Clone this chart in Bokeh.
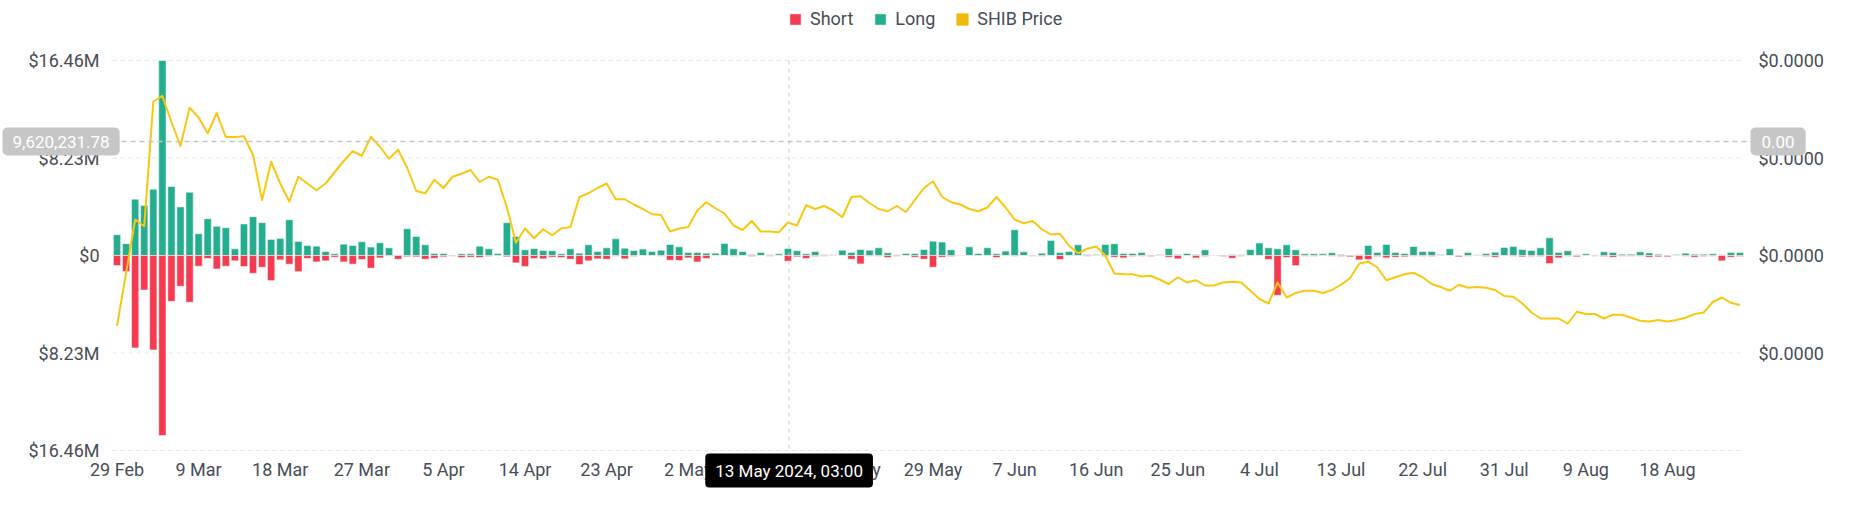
from bokeh.plotting import figure
from bokeh.models import (ColumnDataSource, Range1d, LinearAxis, FixedTicker,
                          CustomJSTickFormatter, Label, Legend, LegendItem)
from bokeh.embed import file_html
from bokeh.resources import INLINE

# daily liquidations, 29 Feb 2024 .. 26 Aug 2024, in $M
long_m = [
    1.75, 0.99, 4.75, 4.21, 5.59, 16.46, 5.82, 4.10, 5.34, 1.84,
    3.11, 2.46, 2.34, 0.56, 2.66, 3.28, 2.77, 1.36, 1.44, 3.02,
    1.19, 0.85, 0.79, 0.34, 0.14, 0.96, 0.85, 1.16, 0.71, 1.07,
    0.65, 0.03, 2.26, 1.61, 0.90, 0.17, 0.17, 0.03, 0.14, 0.14,
    0.79, 0.56, 0.17, 2.77, 1.61, 0.48, 0.59, 0.42, 0.40, 0.14,
    0.56, 0.20, 0.90, 0.34, 0.65, 1.41, 0.62, 0.42, 0.54, 0.34,
    0.45, 0.93, 0.73, 0.25, 0.25, 0.20, 0.20, 1.02, 0.56, 0.34,
    0.08, 0.25, 0.06, 0.14, 0.59, 0.40, 0.14, 0.34, 0.06, 0.06,
    0.45, 0.25, 0.51, 0.45, 0.65, 0.23, 0.06, 0.17, 0.17, 0.51,
    1.21, 1.13, 0.48, 0.02, 0.73, 0.17, 0.65, 0.14, 0.37, 2.18,
    0.31, 0.01, 0.20, 1.27, 0.25, 0.34, 0.90, 0.08, 0.08, 0.93,
    0.99, 0.17, 0.17, 0.25, 0.03, 0.08, 0.59, 0.08, 0.17, 0.08,
    0.48, 0.03, 0.03, 0.08, 0.06, 0.51, 1.05, 0.65, 0.56, 0.90,
    0.48, 0.14, 0.14, 0.14, 0.23, 0.08, 0.05, 0.06, 0.85, 0.25,
    0.93, 0.25, 0.17, 0.76, 0.34, 0.34, 0.08, 0.56, 0.01, 0.25,
    0.06, 0.17, 0.28, 0.68, 0.76, 0.51, 0.42, 0.65, 1.50, 0.25,
    0.40, 0.06, 0.14, 0.01, 0.31, 0.25, 0.11, 0.11, 0.31, 0.22,
    0.10, 0.03, 0.08, 0.20, 0.11, 0.11, 0.14, 0.06, 0.25, 0.25,
]
short_m = [
    0.85, 1.36, 7.80, 2.91, 7.97, 15.20, 3.87, 2.60, 3.95, 0.90,
    0.25, 1.13, 0.90, 0.45, 0.93, 1.50, 0.99, 2.12, 0.37, 0.73,
    1.36, 0.25, 0.54, 0.45, 0.14, 0.54, 0.73, 0.34, 1.07, 0.20,
    0.05, 0.31, 0.10, 0.11, 0.31, 0.23, 0.11, 0.06, 0.17, 0.14,
    0.17, 0.08, 0.03, 0.11, 0.62, 0.93, 0.25, 0.28, 0.14, 0.17,
    0.31, 0.76, 0.45, 0.28, 0.31, 0.06, 0.28, 0.08, 0.03, 0.03,
    0.06, 0.40, 0.42, 0.20, 0.54, 0.25, 0.03, 0.03, 0.06, 0.03,
    0.08, 0.03, 0.06, 0.03, 0.48, 0.11, 0.25, 0.08, 0.06, 0.03,
    0.03, 0.31, 0.71, 0.06, 0.06, 0.17, 0.06, 0.03, 0.14, 0.31,
    0.99, 0.14, 0.08, 0.03, 0.03, 0.03, 0.03, 0.17, 0.03, 0.06,
    0.03, 0.06, 0.06, 0.02, 0.34, 0.03, 0.03, 0.06, 0.03, 0.08,
    0.14, 0.20, 0.08, 0.06, 0.08, 0.03, 0.14, 0.28, 0.03, 0.20,
    0.08, 0.03, 0.08, 0.23, 0.06, 0.03, 0.03, 0.34, 3.36, 0.17,
    0.85, 0.06, 0.06, 0.03, 0.06, 0.08, 0.11, 0.37, 0.34, 0.08,
    0.20, 0.14, 0.11, 0.06, 0.06, 0.08, 0.03, 0.03, 0.11, 0.06,
    0.03, 0.08, 0.14, 0.03, 0.06, 0.11, 0.08, 0.08, 0.68, 0.20,
    0.06, 0.11, 0.03, 0.06, 0.08, 0.14, 0.06, 0.06, 0.06, 0.14,
    0.11, 0.11, 0.03, 0.06, 0.14, 0.08, 0.06, 0.45, 0.14, 0.08,
]
# SHIB price in units of 1e-5 USD
shib_price_e5 = [
    1.06, 1.77, 2.48, 2.39, 4.05, 4.13, 3.78, 3.46, 3.97, 3.84,
    3.63, 3.90, 3.58, 3.58, 3.59, 3.34, 2.74, 3.25, 2.96, 2.72,
    3.05, 2.96, 2.87, 2.96, 3.11, 3.26, 3.39, 3.33, 3.58, 3.45,
    3.29, 3.41, 3.17, 2.86, 2.83, 3.01, 2.90, 3.05, 3.09, 3.14,
    2.98, 3.05, 3.01, 2.64, 2.17, 2.36, 2.23, 2.35, 2.27, 2.36,
    2.38, 2.78, 2.83, 2.90, 2.96, 2.75, 2.75, 2.68, 2.62, 2.55,
    2.54, 2.32, 2.36, 2.38, 2.60, 2.71, 2.63, 2.56, 2.40, 2.34,
    2.46, 2.32, 2.32, 2.31, 2.44, 2.40, 2.67, 2.62, 2.66, 2.60,
    2.51, 2.78, 2.79, 2.70, 2.62, 2.59, 2.66, 2.58, 2.74, 2.90,
    2.99, 2.78, 2.71, 2.68, 2.62, 2.59, 2.64, 2.78, 2.64, 2.48,
    2.43, 2.46, 2.35, 2.28, 2.29, 2.13, 2.03, 2.09, 2.12, 2.00,
    1.76, 1.75, 1.75, 1.72, 1.73, 1.68, 1.62, 1.71, 1.64, 1.67,
    1.60, 1.60, 1.64, 1.65, 1.64, 1.53, 1.42, 1.36, 1.64, 1.44,
    1.50, 1.53, 1.53, 1.50, 1.54, 1.61, 1.70, 1.89, 1.92, 1.84,
    1.67, 1.71, 1.75, 1.77, 1.71, 1.62, 1.58, 1.53, 1.61, 1.57,
    1.58, 1.57, 1.54, 1.46, 1.45, 1.36, 1.24, 1.16, 1.16, 1.16,
    1.09, 1.25, 1.22, 1.22, 1.16, 1.21, 1.21, 1.17, 1.13, 1.12,
    1.14, 1.12, 1.14, 1.17, 1.22, 1.24, 1.38, 1.44, 1.37, 1.34,
]

tick_days = [0, 9, 18, 27, 36, 45, 54, 63, 72, 81, 90, 99, 108, 117, 126, 135, 144, 153, 162, 171]
tick_labels = ["29 Feb", "9 Mar", "18 Mar", "27 Mar", "5 Apr", "14 Apr", "23 Apr", "2 May",
               "11 May", "20 May", "29 May", "7 Jun", "16 Jun", "25 Jun", "4 Jul", "13 Jul",
               "22 Jul", "31 Jul", "9 Aug", "18 Aug"]
left_ticks = [-16.46, -8.23, 0, 8.23, 16.46]
right_ticks = [0.7, 2.0, 3.3, 4.6]

# hover state shown in the screenshot
cursor_day = 74.125
cursor_value = 9.62023178
cursor_text = "13 May 2024, 03:00"

FONT = "Roboto"
TEXT = "#474d57"
GREEN = "#24ae8f"
RED = "#f53b4f"
LINE = "#f9c710"
GOLD = "#f0b90b"

# data area inside the canvas (pixels); the frame is the whole canvas so that
# the hover labels and the legend outside the data area are not clipped
W, H = 1836, 509
PL, PR, PT, PB = 112, 1744, 60, 450
x0, x1 = -0.5, len(long_m) - 0.5
y0, y1 = -16.46, 16.46
p0, p1 = -0.6, 4.6


def outer(lo, hi, a, b, size):
    per = (hi - lo) / (b - a)
    return lo - a * per, hi + (size - b) * per


days = list(range(len(long_m)))
src = ColumnDataSource(dict(day=days, long=long_m,
                            short=[-v for v in short_m], price=shib_price_e5))

xs, xe = outer(x0, x1, PL, PR, W)
ys, ye = outer(y0, y1, H - PB, H - PT, H)
ps, pe = outer(p0, p1, H - PB, H - PT, H)

p = figure(width=W, height=H, x_range=Range1d(xs, xe), y_range=Range1d(ys, ye),
           output_backend="svg", toolbar_location=None, min_border=0)
p.outline_line_color = None
p.extra_y_ranges = {"price": Range1d(ps, pe)}
p.xgrid.visible = False
p.ygrid.visible = False

# grid lines over the data area only
p.segment(x0=[x0] * len(left_ticks), x1=[x1] * len(left_ticks), y0=left_ticks, y1=left_ticks,
          line_color="#e6e6e6", line_dash="4 4", line_width=1)

r_long = p.vbar(x="day", top="long", bottom=0, width=0.8, source=src,
                fill_color=GREEN, line_color="white", line_alpha=0.5)
r_short = p.vbar(x="day", top=0, bottom="short", width=0.8, source=src,
                 fill_color=RED, line_color="white", line_alpha=0.5)
p.line(x="day", y="price", source=src, y_range_name="price",
       line_color=LINE, line_width=2, line_join="round")
# hidden renderer, only to give the price series a square legend swatch
r_gold = p.vbar(x="day", top="price", width=0.8, source=src, y_range_name="price",
                fill_color=GOLD, line_color=GOLD, visible=False)

# axes, pinned to the edges of the data area
xa = p.xaxis[0]
xa.fixed_location = y0
xa.ticker = FixedTicker(ticks=tick_days)
xa.major_label_overrides = dict(zip(tick_days, tick_labels))
ya = p.yaxis[0]
ya.fixed_location = x0
ya.ticker = FixedTicker(ticks=left_ticks)
ya.formatter = CustomJSTickFormatter(
    code="return tick == 0 ? '$0' : '$' + Math.abs(tick).toFixed(2) + 'M';")
ra = LinearAxis(y_range_name="price", fixed_location=x1, ticker=FixedTicker(ticks=right_ticks),
                formatter=CustomJSTickFormatter(code="return '$' + (tick * 1e-5).toFixed(4);"))
p.add_layout(ra, "right")

for ax in (xa, ya, ra):
    ax.axis_line_color = None
    ax.major_tick_line_color = None
    ax.minor_tick_line_color = None
    ax.major_tick_out = 0
    ax.major_tick_in = 0
    ax.major_label_text_font = FONT
    ax.major_label_text_font_size = "18px"
    ax.major_label_text_color = TEXT
xa.major_label_standoff = 8
ya.major_label_standoff = 13
ra.major_label_standoff = 14

# legend
legend = Legend(items=[LegendItem(label="Short", renderers=[r_short]),
                       LegendItem(label="Long", renderers=[r_long]),
                       LegendItem(label="SHIB Price", renderers=[r_gold])],
                orientation="horizontal", location=(788, H - 29),
                glyph_width=14, glyph_height=14, label_standoff=8, spacing=20,
                padding=0, margin=0, border_line_color=None,
                background_fill_alpha=0, inactive_fill_alpha=0, label_text_font=FONT,
                label_text_font_size="18px", label_text_color=TEXT)
p.add_layout(legend)

# crosshair
p.segment(x0=[cursor_day], x1=[cursor_day], y0=[y1], y1=[y0],
          line_color="#cfcfcf", line_dash="4 4", line_width=1)
p.segment(x0=[x0], x1=[x1 + 0.7], y0=[cursor_value], y1=[cursor_value],
          line_color="#c4c4c4", line_dash="5 4", line_width=1.5)
p.add_layout(Label(x=2, y=cursor_value, x_units="screen", text="9,620,231.78",
                   text_align="left", text_baseline="middle", text_color="white",
                   text_font=FONT, text_font_size="17px", background_fill_color="#c6c6c6",
                   padding=dict(left=10, right=10, top=8, bottom=8), border_radius=5))
p.add_layout(Label(x=PR + 6, y=cursor_value, x_units="screen", text="0.00",
                   text_align="left", text_baseline="middle", text_color="white",
                   text_font=FONT, text_font_size="17px", background_fill_color="#c6c6c6",
                   padding=dict(left=11, right=11, top=8, bottom=8), border_radius=5))
p.add_layout(Label(x=cursor_day, y=H - PB - 20, y_units="screen", text=cursor_text,
                   text_align="center", text_baseline="middle", text_color="white",
                   text_font=FONT, text_font_size="17px", background_fill_color="black",
                   padding=dict(left=10, right=10, top=7, bottom=7), border_radius=4))

open("out.html", "w").write(file_html(p, INLINE))
